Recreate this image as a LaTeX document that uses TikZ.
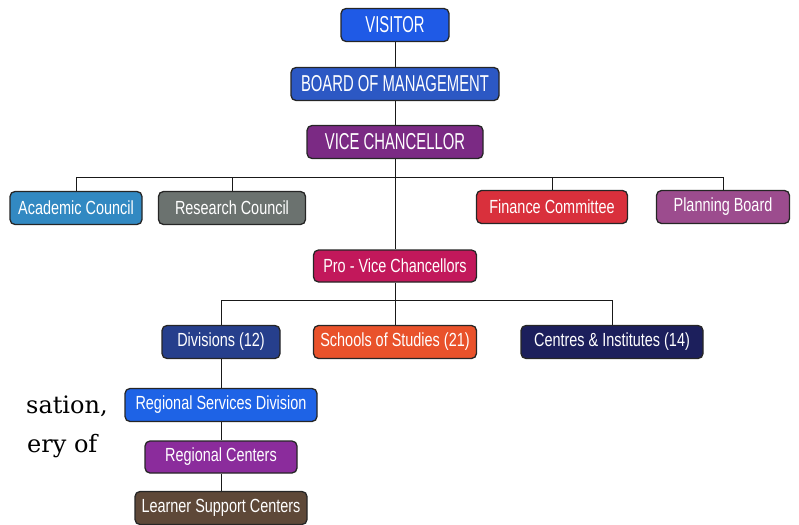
\documentclass[tikz,border=0pt]{standalone}
\usepackage{fontspec}
\newfontfamily\boxfont[FakeStretch=0.76]{Liberation Sans}
\newfontfamily\topfont[FakeStretch=0.645]{Liberation Sans}
\newfontfamily\pagefont{DejaVu Serif}
\usetikzlibrary{positioning}

\definecolor{visitorblue}{HTML}{1F5AE6}
\definecolor{boardblue}{HTML}{2C58C4}
\definecolor{vcpurple}{HTML}{7B2A84}
\definecolor{acadblue}{HTML}{3289C2}
\definecolor{resgray}{HTML}{6B726F}
\definecolor{finred}{HTML}{D9303C}
\definecolor{planmauve}{HTML}{9C4C8E}
\definecolor{provcred}{HTML}{C2185B}
\definecolor{divblue}{HTML}{263F8C}
\definecolor{schorange}{HTML}{E9522B}
\definecolor{cennavy}{HTML}{1C1F5C}
\definecolor{rsdblue}{HTML}{1E63E6}
\definecolor{rcpurple}{HTML}{8B2C9C}
\definecolor{lscbrown}{HTML}{5E4838}

\tikzset{
    orgbox/.style={draw=black!85, line width=1.3pt, rounded corners=5pt, text=white,
        inner sep=0pt, minimum height=33pt, font=\boxfont\fontsize{19}{21}\selectfont},
    topbox/.style={orgbox, font=\topfont\fontsize{23}{25}\selectfont},
    link/.style={draw=black!90, line width=1pt}
}

\begin{document}
\begin{tikzpicture}[x=1pt, y=-1pt]

    \useasboundingbox (0,0) rectangle (799,524);

    % top of the chart
    \node[topbox, fill=visitorblue, minimum width=108pt] (visitor) at (395,25) {VISITOR};
    \node[topbox, fill=boardblue, minimum width=208pt] (board) at (395,84) {BOARD OF MANAGEMENT};
    \node[topbox, fill=vcpurple, minimum width=176pt] (vc) at (395,142) {VICE CHANCELLOR};

    % councils and committees
    \node[orgbox, fill=acadblue, minimum width=132pt] (acad) at (76,208) {Academic Council};
    \node[orgbox, fill=resgray, minimum width=147pt] (research) at (232,208) {Research Council};
    \node[orgbox, fill=finred, minimum width=151pt] (finance) at (552,207) {Finance Committee};
    \node[orgbox, fill=planmauve, minimum width=133pt] (planning) at (723,207) {Planning Board};

    \node[orgbox, fill=provcred, minimum width=163pt, minimum height=32pt] (provc) at (395,266) {Pro - Vice Chancellors};

    % units under the pro-vice chancellors
    \node[orgbox, fill=divblue, minimum width=118pt] (div) at (221,342) {Divisions (12)};
    \node[orgbox, fill=schorange, minimum width=163pt] (schools) at (395,342) {Schools of Studies (21)};
    \node[orgbox, fill=cennavy, minimum width=182pt] (centres) at (612,342) {Centres \& Institutes (14)};

    \node[orgbox, fill=rsdblue, minimum width=192pt] (rsd) at (221,405) {Regional Services Division};
    \node[orgbox, fill=rcpurple, minimum width=152pt, minimum height=32pt] (rc) at (221,457) {Regional Centers};
    \node[orgbox, fill=lscbrown, minimum width=172pt] (lsc) at (221,508) {Learner Support Centers};

    \coordinate (bus1) at (395,177.5);
    \coordinate (bus2) at (395,300.5);

    \draw[link] (visitor) -- (board);
    \draw[link] (board) -- (vc);
    \draw[link] (vc) -- (provc);

    \draw[link] (acad.north) |- (bus1) -| (planning.north);
    \draw[link] (research.north) -- (research.north |- bus1);
    \draw[link] (finance.north) -- (finance.north |- bus1);

    \draw[link] (div.north) |- (bus2) -| (centres.north);
    \draw[link] (provc) -- (schools);

    \draw[link] (div) -- (rsd);
    \draw[link] (rsd) -- (rc);
    \draw[link] (rc) -- (lsc);

    % cut-off page text on the left
    \node[anchor=base west, inner sep=0pt, font=\pagefont\fontsize{24}{26}\selectfont] (txta) at (26,413) {sation,};
    \node[anchor=base west, inner sep=0pt, font=\pagefont\fontsize{24}{26}\selectfont] (txtb) at (27,452) {ery of};

\end{tikzpicture}
\end{document}
